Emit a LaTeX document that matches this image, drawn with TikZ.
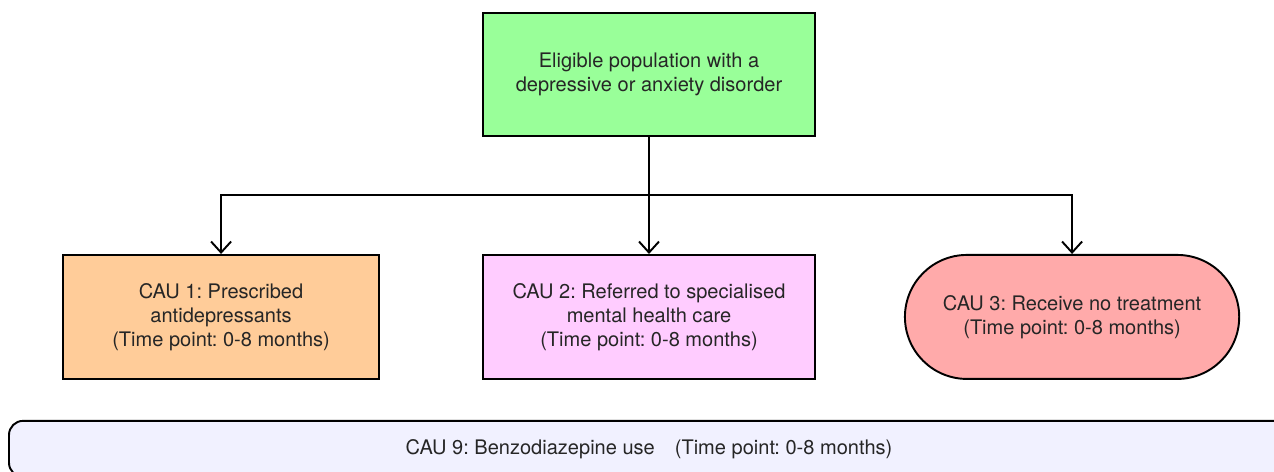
\documentclass[tikz,border=0pt]{standalone}
\usepackage{fontspec}
\setmainfont{TeX Gyre Heros}
\usetikzlibrary{positioning,shapes.misc,arrows.meta}
\definecolor{popgreen}{RGB}{153,255,153}
\definecolor{cauorange}{RGB}{255,204,153}
\definecolor{caupink}{RGB}{255,204,255}
\definecolor{caured}{RGB}{255,170,170}
\definecolor{caulav}{RGB}{241,241,255}
\begin{document}
\frenchspacing
\begin{tikzpicture}[>={Straight Barb[length=2.2mm,width=4mm]}, line width=1.1pt,
    every node/.style={draw, align=center, text=black!85, font=\fontsize{11.4}{13.6}\selectfont},
    box/.style={rectangle, minimum height=2.48cm}]
    \useasboundingbox (0,0) rectangle (25.48,-9.44);
    \clip (0,0) rectangle (25.48,-9.44);

    % Nodes
    \node (pop) [box, fill=popgreen, minimum width=6.64cm, minimum height=2.46cm] at (12.98,-1.49)
        {Eligible population with a\\depressive or anxiety disorder};
    \node (cau2) [box, below=2.34cm of pop, fill=caupink, minimum width=6.64cm]
        {CAU 2: Referred to specialised\\mental health care\\(Time point: 0-8 months)};
    \node (cau1) [box, left=2.04cm of cau2, fill=cauorange, minimum width=6.32cm]
        {CAU 1: Prescribed\\antidepressants\\(Time point: 0-8 months)};
    \node (cau3) [rounded rectangle, right=1.76cm of cau2, fill=caured, minimum width=6.92cm, minimum height=2.48cm]
        {CAU 3: Receive no treatment\\(Time point: 0-8 months)};
    \node (cau9) [rectangle, rounded corners=8pt, below=0.8cm of cau2, fill=caulav, minimum width=25.6cm, minimum height=1.12cm]
        {CAU 9: Benzodiazepine use\quad(Time point: 0-8 months)};

    % Edges
    \coordinate (split) at ([yshift=-1.16cm]pop.south);
    \draw[->] (pop) -- (cau2);
    \draw[->] (split) -| (cau1.north);
    \draw[->] (split) -| (cau3.north);

\end{tikzpicture}
\end{document}
